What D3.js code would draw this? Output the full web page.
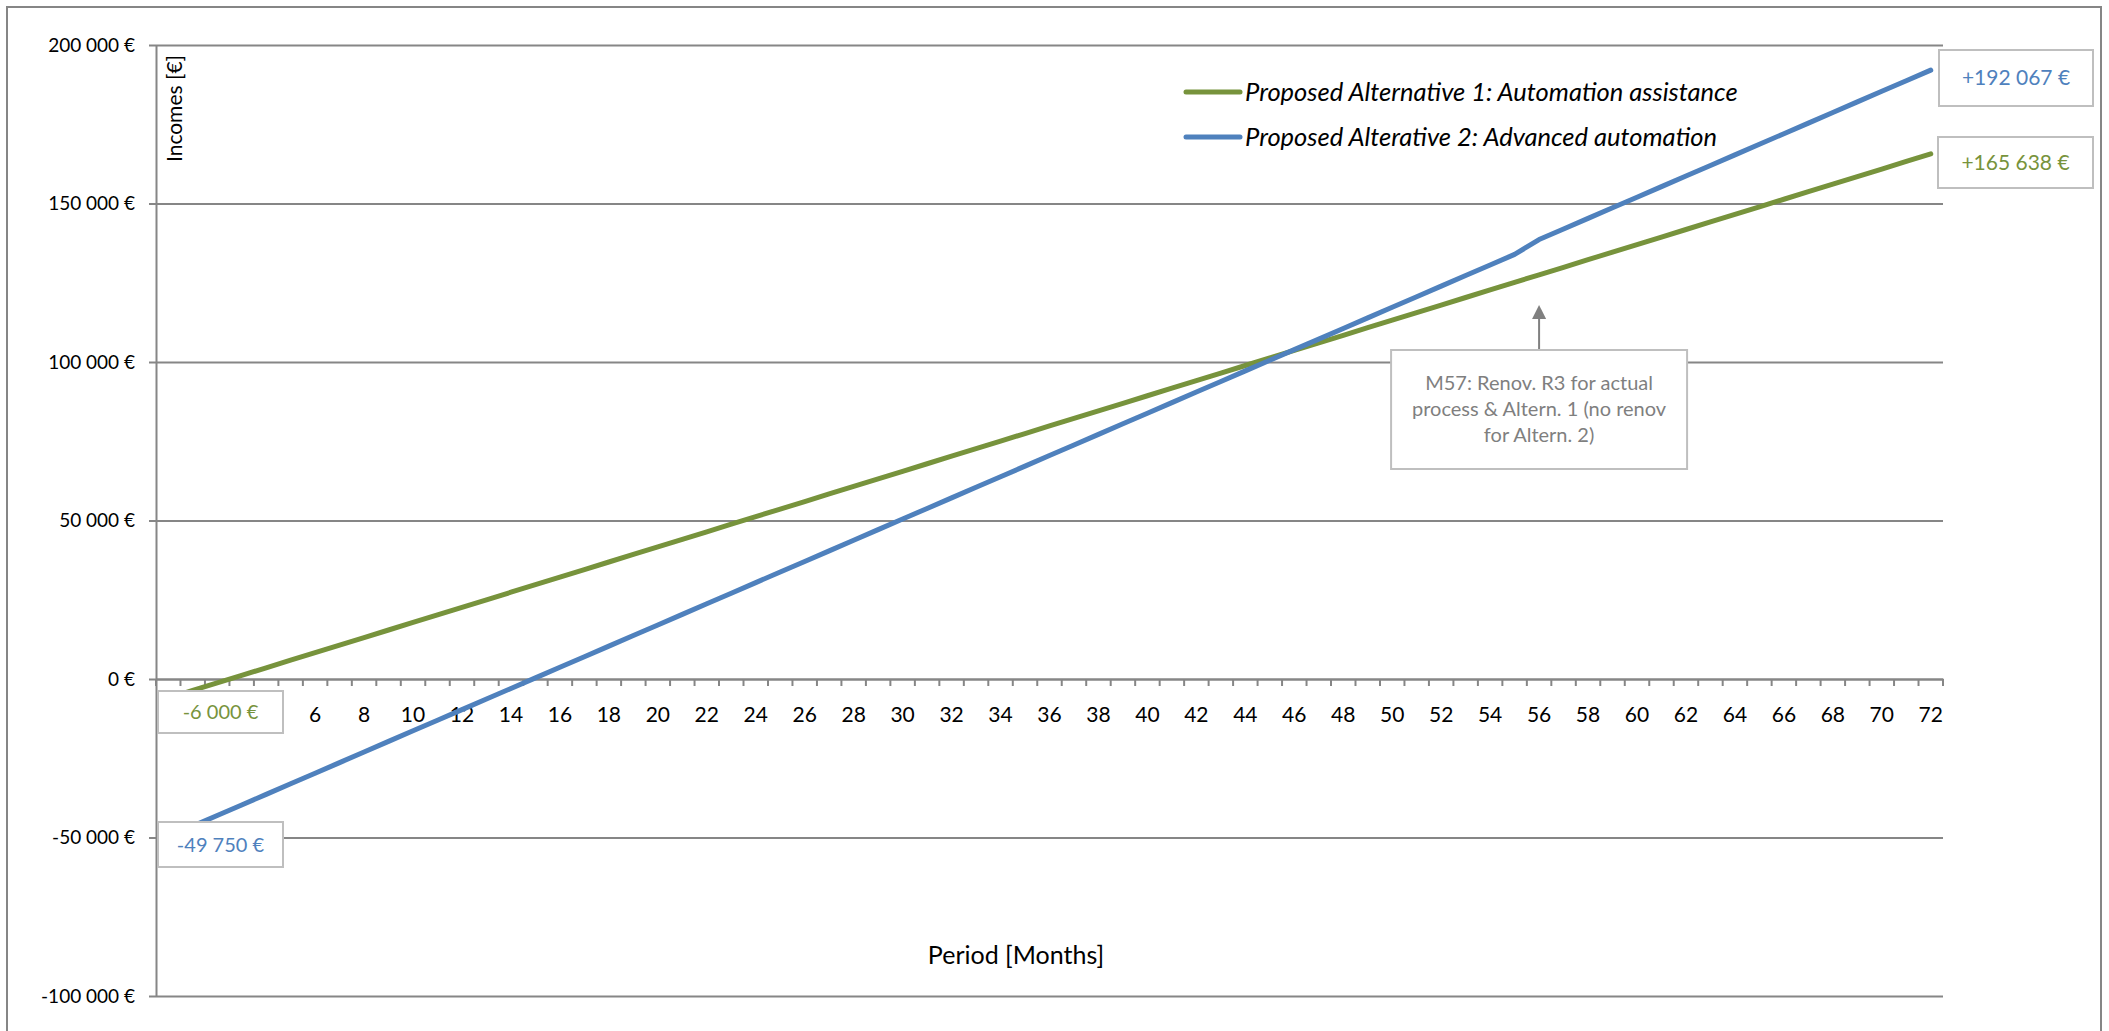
<!DOCTYPE html>
<html>
<head>
<meta charset="utf-8">
<script src="https://cdn.jsdelivr.net/npm/d3@7/dist/d3.min.js"></script>
<style>
  body { margin: 0; background: #fff; }
  svg { display: block; font-family: Lato, "Open Sans", sans-serif; }
</style>
</head>
<body>
<svg width="2109" height="1031"></svg>
<script>
// months 0..72
var months = d3.range(0, 73);

// Proposed Alternative 1 (green)
var alt1 = [-6000, -3616, -1232, 1152, 3536, 5920, 8303, 10687, 13071, 15455,
  17839, 20223, 22607, 24991, 27375, 29759, 32142, 34526, 36910, 39294,
  41678, 44062, 46446, 48830, 51214, 53598, 55981, 58365, 60749, 63133,
  65517, 67901, 70285, 72669, 75053, 77437, 79820, 82204, 84588, 86972,
  89356, 91740, 94124, 96508, 98892, 101276, 103659, 106043, 108427, 110811,
  113195, 115579, 117963, 120347, 122731, 125115, 127498, 129882, 132266, 134650,
  137034, 139418, 141802, 144186, 146570, 148954, 151337, 153721, 156105, 158489,
  160873, 163257, 165638];

// Proposed Alternative 2 (blue)
var alt2 = [-49750, -46410, -43070, -39730, -36390, -33050, -29710, -26370, -23030, -19690,
  -16350, -13010, -9670, -6330, -2990, 350, 3690, 7030, 10370, 13710,
  17050, 20390, 23730, 27070, 30410, 33750, 37090, 40430, 43770, 47110,
  50450, 53790, 57130, 60470, 63810, 67150, 70490, 73830, 77170, 80510,
  83850, 87190, 90530, 93870, 97210, 100550, 103890, 107230, 110570, 113910,
  117250, 120590, 123930, 127270, 130610, 133950, 138627, 141967, 145307, 148647,
  151987, 155327, 158667, 162007, 165347, 168687, 172027, 175367, 178707, 182047,
  185387, 188727, 192067];

var yTicks = [-100000, -50000, 0, 50000, 100000, 150000, 200000];
var seriesNames = ["Proposed Alternative 1: Automation assistance", "Proposed Alterative 2: Advanced automation"];
var noteLines = ["M57: Renov. R3 for actual", "process & Altern. 1 (no renov", "for Altern. 2)"];
var noteMonth = 56;

var green = "#77933C", blue = "#4F81BD", grid = "#868686", boxStroke = "#BFBFBF";

var loc = d3.formatLocale({decimal: ",", thousands: " ", grouping: [3], currency: ["", " €"], minus: "-"});
var fmt = function (v) { return loc.format(",")(v) + " €"; };
var fmtSigned = function (v) { return (v > 0 ? "+" : "") + fmt(v); };

var svg = d3.select('svg');

var x = d3.scaleBand().domain(months).range([156, 1943]).padding(0);
var y = d3.scaleLinear().domain([-100000, 200000]).range([996, 45]);
var cx = function (m) { return x(m) + x.bandwidth() / 2; };

// outer frame
svg.append('rect').attr('x', 7).attr('y', 7).attr('width', 2094).attr('height', 1040)
  .attr('fill', 'none').attr('stroke', grid).attr('stroke-width', 2);

// horizontal gridlines + y axis
var yAxis = d3.axisLeft(y).tickValues(yTicks).tickSize(-(1943 - 156)).tickSizeOuter(0).tickFormat(fmt).tickPadding(21);
var yg = svg.append('g').attr('transform', 'translate(156,0)').call(yAxis);
yg.select('.domain').attr('stroke', grid).attr('stroke-width', 2);
yg.selectAll('.tick line').attr('stroke', grid).attr('stroke-width', 2).attr('x1', -7);
yg.selectAll('.tick text').attr('font-size', 19).attr('fill', '#000').attr('font-family', 'Lato, sans-serif');

// x axis on zero line (labels for months 0-4 sit behind the -6 000 € box)
var xAxis = d3.axisBottom(x).tickSize(0).tickPadding(28)
  .tickFormat(function (m) { return m % 2 === 0 && m >= 6 ? m : ""; });
var xg = svg.append('g').attr('transform', 'translate(0,' + y(0) + ')').call(xAxis);
xg.select('.domain').attr('stroke', grid).attr('stroke-width', 2);
xg.selectAll('.tick text').attr('font-size', 21).attr('fill', '#000').attr('font-family', 'Lato, sans-serif');
// tick marks between categories
xg.selectAll('line.cat').data(months.concat([73])).enter().append('line').attr('class', 'cat')
  .attr('x1', function (m) { return m < 73 ? x(m) : x(72) + x.bandwidth(); })
  .attr('x2', function (m) { return m < 73 ? x(m) : x(72) + x.bandwidth(); })
  .attr('y1', 0).attr('y2', 7).attr('stroke', grid).attr('stroke-width', 2);

// axis titles
svg.append('text').attr('x', 1016).attr('y', 964).attr('text-anchor', 'middle')
  .attr('font-size', 25).text('Period [Months]');
svg.append('text').attr('transform', 'translate(182,55) rotate(-90)').attr('text-anchor', 'end')
  .attr('font-size', 21).text('Incomes [€]');

// lines
var line = d3.line().x(function (d, i) { return cx(months[i]); }).y(function (d) { return y(d); });
[[alt1, green], [alt2, blue]].forEach(function (s) {
  svg.append('path').datum(s[0]).attr('d', line).attr('fill', 'none')
    .attr('stroke', s[1]).attr('stroke-width', 5).attr('stroke-linecap', 'round').attr('stroke-linejoin', 'round');
});

// legend
var legend = svg.append('g').attr('transform', 'translate(1186,92)');
[green, blue].forEach(function (c, i) {
  var g = legend.append('g').attr('transform', 'translate(0,' + i * 45 + ')');
  g.append('line').attr('x1', 0).attr('x2', 54).attr('stroke', c).attr('stroke-width', 5).attr('stroke-linecap', 'round');
  g.append('text').attr('x', 59).attr('dy', '0.35em').attr('font-size', 25.5).attr('font-style', 'italic').text(seriesNames[i]);
});

// data label boxes
function labelBox(x0, y0, w, h, txt, col, fs) {
  svg.append('rect').attr('x', x0).attr('y', y0).attr('width', w).attr('height', h)
    .attr('fill', '#fff').attr('stroke', boxStroke).attr('stroke-width', 2);
  svg.append('text').attr('x', x0 + w / 2).attr('y', y0 + h / 2).attr('dy', '0.35em')
    .attr('text-anchor', 'middle').attr('font-size', fs).attr('fill', col).text(txt);
}
labelBox(158, 691, 125, 42, fmtSigned(alt1[0]), green, 20);
labelBox(158, 822, 125, 45, fmtSigned(alt2[0]), blue, 20);
labelBox(1939, 50, 154, 56, fmtSigned(alt2[72]), blue, 21);
labelBox(1938, 137, 155, 51, fmtSigned(alt1[72]), green, 21);

// annotation
var ax = cx(noteMonth);
svg.append('defs').append('marker').attr('id', 'arr').attr('viewBox', '0 0 10 10').attr('refX', 5).attr('refY', 5)
  .attr('markerWidth', 7).attr('markerHeight', 7).attr('orient', 'auto')
  .append('path').attr('d', 'M0,0 L10,5 L0,10 z').attr('fill', '#808080');
svg.append('line').attr('x1', ax).attr('x2', ax).attr('y1', 350).attr('y2', 312)
  .attr('stroke', '#808080').attr('stroke-width', 2).attr('marker-end', 'url(#arr)');
svg.append('rect').attr('x', ax - 148).attr('y', 350).attr('width', 296).attr('height', 119)
  .attr('fill', '#fff').attr('stroke', boxStroke).attr('stroke-width', 2);
svg.append('text').attr('x', ax).attr('y', 385).attr('text-anchor', 'middle').attr('font-size', 20).attr('fill', '#7F7F7F')
  .selectAll('tspan').data(noteLines).enter().append('tspan').attr('x', ax).attr('dy', function (d, i) { return i ? 26 : 0; })
  .attr('dominant-baseline', 'middle').text(function (d) { return d; });
</script>
</body>
</html>
